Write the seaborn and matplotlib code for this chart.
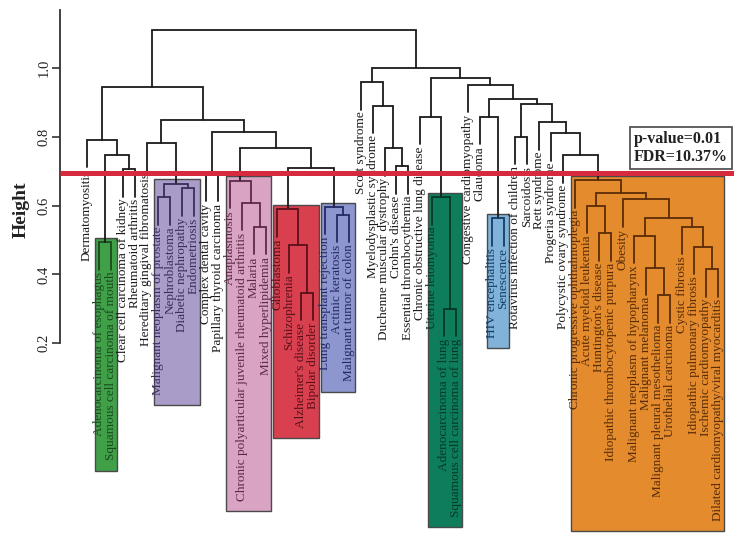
import numpy as np
import pandas as pd
import matplotlib
matplotlib.use("Agg")
import matplotlib.pyplot as plt
import seaborn as sns
from matplotlib.patches import Rectangle

# ---------------- data ----------------
labels = [
    "Dermatomyositis", "Adenocarcinoma of esophagus", "Squamous cell carcinoma of mouth",
    "Clear cell carcinoma of kidney", "Rheumatoid arthritis", "Hereditary gingival fibromatosis",
    "Malignant neoplasm of prostate", "Nephroblastoma", "Diabetic nephropathy", "Endometriosis",
    "Complex dental cavity", "Papillary thyroid carcinoma", "Anaplasmosis",
    "Chronic polyarticular juvenile rheumatoid arthritis", "Malaria", "Mixed hyperlipidemia",
    "Glioblastoma", "Schizophrenia", "Alzheimer's disease", "Bipolar disorder",
    "Lung transplant rejection", "Actinic keratosis", "Malignant tumor of colon",
    "Scott syndrome", "Myelodysplastic syndrome", "Duchenne muscular dystrophy",
    "Crohn's disease", "Essential thrombocythemia", "Chronic obstructive lung disease",
    "Uterine leiomyoma", "Adenocarcinoma of lung", "Squamous cell carcinoma of lung",
    "Congestive cardiomyopathy", "Glaucoma", "HIV encephalitis", "Senescence",
    "Rotavirus infection of children", "Sarcoidosis", "Rett syndrome", "Progeria syndrome",
    "Polycystic ovary syndrome", "Chronic progressive ophthalmoplegia", "Acute myeloid leukemia",
    "Huntington's disease", "Idiopathic thrombocytopenic purpura", "Obesity",
    "Malignant neoplasm of hypopharynx", "Malignant melanoma", "Malignant pleural mesothelioma",
    "Urothelial carcinoma", "Cystic fibrosis", "Idiopathic pulmonary fibrosis",
    "Ischemic cardiomyopathy", "Dilated cardiomyopathy/viral myocarditis",
]

# subtrees: (merge height, left, right); ints are leaf indices
green = (0.494, 1, 2)
la3 = (0.706, 3, 4)
la2 = (0.747, green, la3)
la = (0.791, 0, la2)
purple = (0.663, (0.625, 6, 7), (0.651, 8, 9))
lb1 = (0.782, 5, purple)
lb3 = (0.692, 10, 11)
pink = (0.672, 12, (0.608, 13, (0.538, 14, 15)))
red = (0.590, 16, (0.485, 17, (0.346, 18, 19)))
blue = (0.596, 20, (0.573, 21, 22))
lb5 = (0.709, red, blue)
lb4 = (0.767, pink, lb5)
lb2 = (0.814, lb3, lb4)
lb = (0.849, lb1, lb2)
left_tree = (0.945, la, lb)

ra = (0.959, 23, (0.890, 24, (0.767, 25, (0.715, 26, 27))))
teal = (0.625, 29, (0.300, 30, 31))
rb1 = (0.858, 28, teal)
lightblue = (0.564, 34, 35)
rb4 = (0.858, 33, lightblue)
orange_o5 = (0.512, 46, (0.420, 47, (0.340, 48, 49)))
orange_o6 = (0.538, 50, (0.480, 51, (0.415, 52, 53)))
orange = (0.674, 41, (0.637, (0.600, 42, (0.520, 43, 44)),
                      (0.619, 45, (0.564, orange_o5, orange_o6))))
rb9 = (0.747, 40, orange)
rb8 = (0.811, 39, rb9)
rb7 = (0.843, 38, rb8)
rb6 = (0.800, 36, 37)
rb5 = (0.895, rb6, rb7)
rb3 = (0.910, rb4, rb5)
rb2 = (0.951, 32, rb3)
rb = (0.971, rb1, rb2)
right_tree = (1.000, ra, rb)
root = (1.110, left_tree, right_tree)

clusters = {"green": green, "purple": purple, "pink": pink, "red": red, "blue": blue,
            "teal": teal, "lightblue": lightblue, "orange": orange}
cluster_fill = {"green": "#40a048", "purple": "#aa9cc9", "pink": "#d9a3c3", "red": "#d9404f",
                "blue": "#8e96cf", "teal": "#0e7d5c", "lightblue": "#80b2da", "orange": "#e38b2d"}
cluster_dark = {"green": "#1c4a20", "purple": "#3b2d5c", "pink": "#5c2a47", "red": "#5a1019",
                "blue": "#222a68", "teal": "#06382a", "lightblue": "#143c66", "orange": "#5a2c06",
                "none": "#1a1a1a"}

threshold = 0.695
annotation = "p-value=0.01\nFDR=10.37%"
yticks = [0.2, 0.4, 0.6, 0.8, 1.0]
HANG = 0.08

# ---------------- build dendrogram segments ----------------
cid = {id(v): k for k, v in clusters.items()}
rows = []
leaf_end = {}

def walk(node, parent_h, grp):
    if isinstance(node, int):
        y = parent_h - HANG
        leaf_end[node] = (y, grp)
        return float(node), y
    h, a, b = node
    g = cid.get(id(node), grp)
    xa, ya = walk(a, h, g)
    xb, yb = walk(b, h, g)
    rows.append([(xa, ya), (xa, h), (xb, h), (xb, yb), g])
    return (xa + xb) / 2, h

walk(root, root[0] + HANG, "none")
recs = []
for sid, r in enumerate(rows):
    for k, (x, y) in enumerate(r[:4]):
        recs.append(dict(x=x, y=y, seg=sid, order=k, grp=r[4]))
df = pd.DataFrame(recs)

# ---------------- figure ----------------
sns.set_theme(style="white")
plt.rcParams["font.family"] = ["Liberation Serif", "DejaVu Serif"]

W, H = 734, 545
fig = plt.figure(figsize=(W / 100, H / 100), dpi=100)
ax = fig.add_axes([0, 0, 1, 1])
SP, X0 = 11.9, 87.0
PX_PER_UNIT, Y1 = 344.0, 68.0
ax.set_xlim(-X0 / SP, (W - X0) / SP)
ax.set_ylim(1 - (H - Y1) / PX_PER_UNIT, 1 + Y1 / PX_PER_UNIT)
axis_x = (60 - X0) / SP

sns.lineplot(data=df, x="x", y="y", units="seg", estimator=None, hue="grp",
             palette=cluster_dark, sort=False, legend=False, linewidth=1.3, ax=ax)
for ln in ax.lines:
    ln.set_zorder(3)
    ln.set_solid_joinstyle("miter")

texts = {}
for i, lab in enumerate(labels):
    y, g = leaf_end[i]
    texts[i] = ax.text(i, y - 0.006, lab, rotation=90, ha="center", va="top",
                       fontsize=9.5, color=cluster_dark[g], zorder=4)

# cluster boxes sized from their labels
fig.canvas.draw()
rend = fig.canvas.get_renderer()
inv = ax.transData.inverted()
ybot = ax.get_ylim()[0]
for name, sub in clusters.items():
    members = [i for i, (y, g) in leaf_end.items() if g == name]
    lo = min(inv.transform((0, texts[i].get_window_extent(rend).y0))[1] for i in members)
    top = sub[0] + 0.013
    bottom = max(lo - 0.03, ybot + 0.02)
    x0 = min(members) - 0.35
    x1 = max(members) + 0.5
    ax.add_patch(Rectangle((x0, bottom), x1 - x0, top - bottom, facecolor=cluster_fill[name],
                           edgecolor="#4a4a4a", linewidth=1.0, zorder=1))

# threshold line
ax.plot([axis_x, ax.get_xlim()[1]], [threshold, threshold], color="#d62a3d",
        linewidth=3.6, solid_capstyle="butt", zorder=6)

# annotation
ax.text(634 / W, 1 - 148 / H, annotation, transform=ax.transAxes, ha="left", va="center",
        fontsize=11.5, fontweight="bold", color="#222222", linespacing=1.15, zorder=7,
        bbox=dict(boxstyle="square,pad=0.25", facecolor="white", edgecolor="#555555",
                  linewidth=1.3))

# axes styling
for s in ["top", "right", "bottom"]:
    ax.spines[s].set_visible(False)
ax.spines["left"].set_position(("data", axis_x))
ax.spines["left"].set_bounds(0.2, 1.17)
ax.spines["left"].set_color("#333333")
ax.spines["left"].set_linewidth(1.3)
ax.set_xticks([])
ax.set_yticks(yticks)
ax.set_yticklabels([f"{t:.1f}" for t in yticks], rotation=90, va="center", fontsize=10.5)
ax.tick_params(axis="y", direction="out", length=6, width=1.2, color="#333333",
               labelcolor="#222222", pad=1, left=True)
ax.set_xlabel("")
ax.set_ylabel("Height", fontsize=14, fontweight="bold", color="#222222")
ax.yaxis.set_label_coords(30 / W, 1 - 210 / H)

fig.savefig("out.png", dpi=100, facecolor="white")
